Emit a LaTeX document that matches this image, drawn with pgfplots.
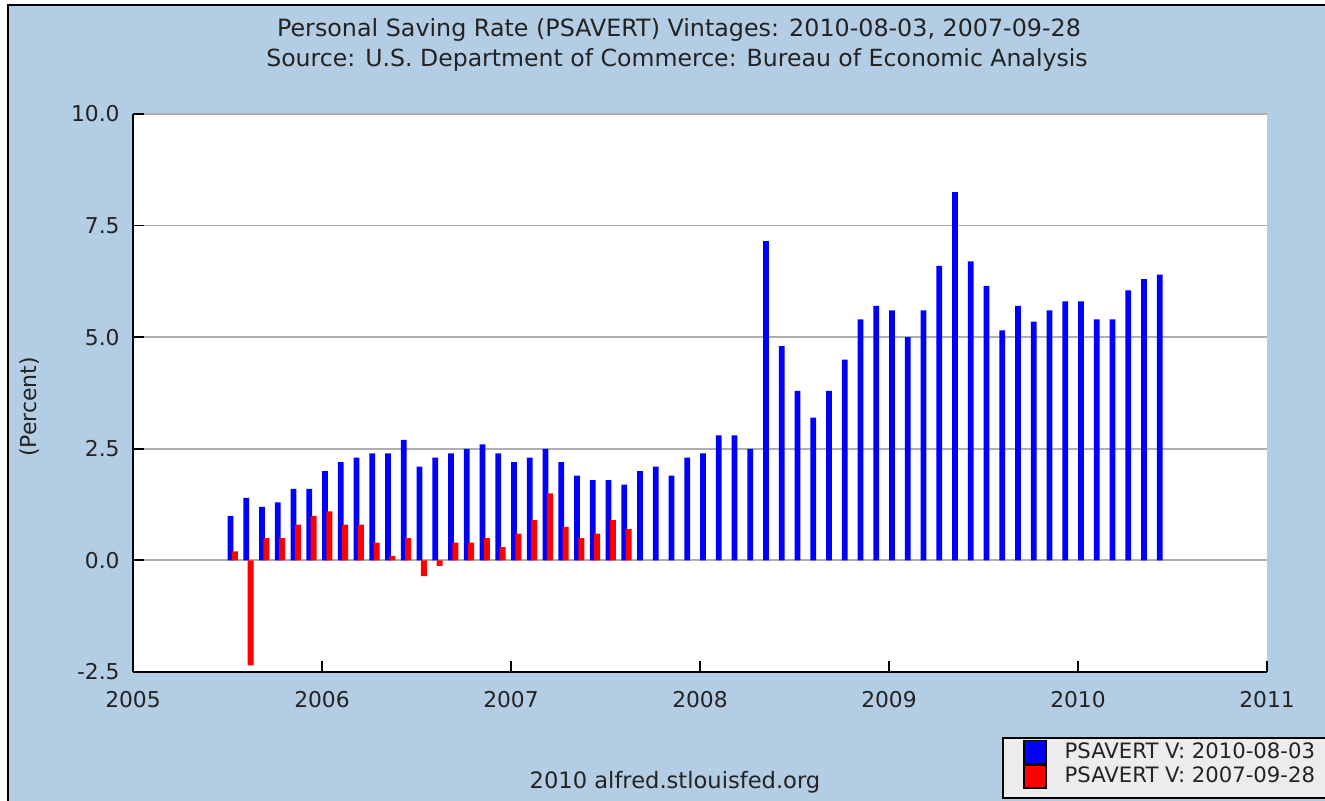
\documentclass[border=0pt]{standalone}
\usepackage{fontspec}
\setmainfont{DejaVu Sans}
\usepackage{pgfplots}
\pgfplotsset{compat=1.18}
\definecolor{bgblue}{RGB}{179,205,228}
\definecolor{gridgray}{RGB}{175,175,175}
\definecolor{legfill}{RGB}{236,236,236}
\definecolor{txt}{RGB}{35,35,35}

\begin{document}
\begin{tikzpicture}
\useasboundingbox (0pt,0pt) rectangle (662.5pt,400.5pt);
\fill[white] (0pt,0pt) rectangle (662.5pt,400.5pt);
\clip (0pt,0pt) rectangle (662.5pt,400.5pt);
\filldraw[fill=bgblue, draw=black, line width=1pt] (4pt,-5pt) rectangle (672pt,398pt);
\node[anchor=base, text=txt, font=\fontsize{11.9}{14}\selectfont] at (339.5pt,382.25pt) {Personal Saving Rate (PSAVERT) Vintages: 2010-08-03, 2007-09-28};
\node[anchor=base, text=txt, font=\fontsize{11.8}{14}\selectfont] at (338.5pt,367.25pt) {Source: U.S. Department of Commerce: Bureau of Economic Analysis};
\node[rotate=90, text=txt, font=\fontsize{11}{13}\selectfont] at (15pt,197pt) {(Percent)};
\node[anchor=base, text=txt, font=\fontsize{11.3}{13}\selectfont] at (337.5pt,6pt) {2010 alfred.stlouisfed.org};
\filldraw[fill=legfill, draw=black, line width=0.9pt] (501.5pt,1.35pt) rectangle (680pt,31.35pt);
\begin{axis}[
  at={(66.5pt,64.5pt)}, anchor=south west,
  scale only axis, width=567pt, height=279pt,
  xmin=0, xmax=72, ymin=-2.5, ymax=10,
  axis x line*=bottom, axis y line*=left,
  axis line style={black, line width=0.9pt},
  axis background/.style={fill=white},
  xtick={0,12,24,36,48,60,72},
  xticklabels={2005,2006,2007,2008,2009,2010,2011},
  ytick={-2.5,0,2.5,5,7.5,10},
  yticklabels={-2.5,0.0,2.5,5.0,7.5,10.0},
  tick align=inside, major tick length=5.5pt,
  tick style={black, line width=0.9pt},
  ymajorgrids, grid style={gridgray, line width=0.9pt},
  xticklabel style={inner sep=0pt, anchor=north, yshift=-9.5pt, text=txt, font=\fontsize{10.9}{13}\selectfont},
  yticklabel style={inner sep=0pt, anchor=east, xshift=-6.5pt, text=txt, font=\fontsize{10.9}{13}\selectfont},
  legend cell align=left,
  legend style={at={(0.7848,-0.1206)}, anchor=north west, draw=none, fill=none,
    inner xsep=0pt, inner ysep=0pt, row sep=0pt,
    nodes={inner sep=0pt, text depth=0.15em, text=txt},
    font=\fontsize{10.6}{12}\selectfont,
    /tikz/every odd column/.append style={column sep=8.9pt}},
]
\addplot[ybar, bar width=0.38, bar shift=0.19, fill=blue, draw=none,
  legend image code/.code={\draw[fill=blue, draw=black, line width=0.75pt] (0pt,-5.75pt) rectangle (11pt,5.75pt);}]
coordinates {
(6,1.0) (7,1.4) (8,1.2) (9,1.3) (10,1.6) (11,1.6) (12,2.0) (13,2.2) (14,2.3) (15,2.4)
(16,2.4) (17,2.7) (18,2.1) (19,2.3) (20,2.4) (21,2.5) (22,2.6) (23,2.4) (24,2.2) (25,2.3)
(26,2.5) (27,2.2) (28,1.9) (29,1.8) (30,1.8) (31,1.7) (32,2.0) (33,2.1) (34,1.9) (35,2.3)
(36,2.4) (37,2.8) (38,2.8) (39,2.5) (40,7.15) (41,4.8) (42,3.8) (43,3.2) (44,3.8) (45,4.5)
(46,5.4) (47,5.7) (48,5.6) (49,5.0) (50,5.6) (51,6.6) (52,8.25) (53,6.7) (54,6.15) (55,5.15)
(56,5.7) (57,5.35) (58,5.6) (59,5.8) (60,5.8) (61,5.4) (62,5.4) (63,6.05) (64,6.3) (65,6.4)
};
\addlegendentry{PSAVERT V: 2010-08-03}
\addplot[ybar, bar width=0.38, bar shift=0.47, fill=red, draw=none,
  legend image code/.code={\draw[fill=red, draw=black, line width=0.75pt] (0pt,-5.75pt) rectangle (11pt,5.75pt);}]
coordinates {
(6,0.2) (7,-2.35) (8,0.5) (9,0.5) (10,0.8) (11,1.0) (12,1.1) (13,0.8) (14,0.8) (15,0.4)
(16,0.1) (17,0.5) (18,-0.35) (19,-0.12) (20,0.4) (21,0.4) (22,0.5) (23,0.3) (24,0.6) (25,0.9)
(26,1.5) (27,0.75) (28,0.5) (29,0.6) (30,0.9) (31,0.7)
};
\addlegendentry{PSAVERT V: 2007-09-28}
\end{axis}
\end{tikzpicture}
\end{document}
